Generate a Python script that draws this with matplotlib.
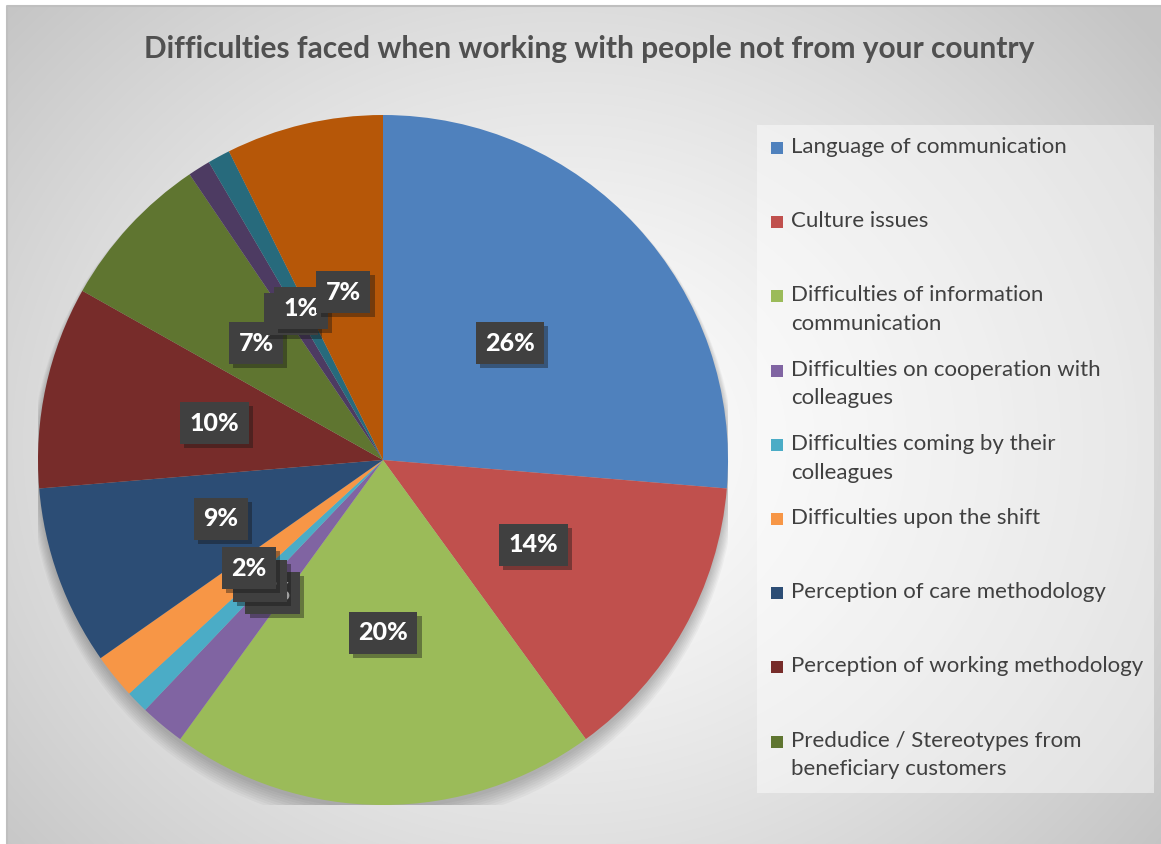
import numpy as np
import matplotlib
matplotlib.use("Agg")
import matplotlib.pyplot as plt
import matplotlib.patheffects as pe
from matplotlib.patches import Rectangle, Ellipse

# survey answers (counts) per difficulty, clockwise from 12 o'clock
names = [
    "Language of communication",
    "Culture issues",
    "Difficulties of information\ncommunication",
    "Difficulties on cooperation with\ncolleagues",
    "Difficulties coming by their\ncolleagues",
    "Difficulties upon the shift",
    "Perception of care methodology",
    "Perception of working methodology",
    "Predudice / Stereotypes from\nbeneficiary customers",
]
counts = [25, 13, 19, 2, 1, 2, 8, 9, 7, 1, 1, 7]
colors = ["#4F81BD", "#C0504D", "#9BBB59", "#8064A2", "#4BACC6", "#F79646",
          "#2C4D75", "#772C2A", "#5F7530", "#4D3B62", "#276A7C", "#B65708"]

title = "Difficulties faced when working with people not from your country"
font = "Lato"
W, H = 1161, 844


def round_percent(vals):
    # whole percentages that still add up to 100 (largest remainder)
    v = np.asarray(vals, dtype=float)
    p = v / v.sum() * 100
    fl = np.floor(p).astype(int)
    rest = 100 - fl.sum()
    order = np.argsort(-(p - fl), kind="stable")
    fl[order[:rest]] += 1
    return fl


fig = plt.figure(figsize=(W / 100, H / 100), dpi=100)

# background: white margin + radial grey gradient chart area
bg = fig.add_axes([0, 0, 1, 1])
bg.set_xlim(0, W)
bg.set_ylim(H, 0)
bg.axis("off")
yy, xx = np.mgrid[0:H, 0:W]
d = np.hypot(xx - 560, (yy - 440) * 1.15) / 760
g = 1.0 - 0.23 * np.clip(d, 0, 1) ** 1.3
img = np.dstack([g, g, g])
bg.imshow(img, extent=(7, W, H, 6), zorder=0, aspect="auto")
bg.plot([7, 7, W], [H, 6, 6], color="#bfbfbf", lw=1.5, zorder=1)

fig.text(589 / W, 1 - 49 / H, title, ha="center", va="center",
         fontsize=21.5, fontweight="bold", color="#505050", family=font)

# pie
cx, cy, R = 383, 460, 345
ax = fig.add_axes([(cx - R) / W, (H - cy - R) / H, 2 * R / W, 2 * R / H])

# soft shadow under the pie
for i in range(8):
    ax.add_patch(Ellipse((0.0, -0.012 - 0.003 * i), 2 + 0.006 * i,
                         2 + 0.008 * i, color="black", alpha=0.03, lw=0,
                         zorder=0))

wedges, _ = ax.pie(counts, colors=colors, startangle=90, counterclock=False,
                   radius=1, wedgeprops=dict(linewidth=0))
ax.set_xlim(-1, 1)
ax.set_ylim(-1, 1)
ax.axis("off")

pcts = round_percent(counts)
for i, (w, p) in enumerate(zip(wedges, pcts)):
    ang = np.deg2rad((w.theta1 + w.theta2) / 2)
    t = ax.text(0.5 * np.cos(ang), 0.5 * np.sin(ang), f"{p}%",
                ha="center", va="center", color="white", fontsize=18,
                fontweight="black", family=font, zorder=10 + i,
                bbox=dict(boxstyle="square,pad=0.38", facecolor="#404040",
                          edgecolor="none", linewidth=0))
    t.get_bbox_patch().set_path_effects(
        [pe.SimplePatchShadow(offset=(3, -3), alpha=0.4), pe.Normal()])

# legend panel
lx0, ly0, lx1, ly1 = 757, 125, 1154, 793
bg.add_patch(Rectangle((lx0, ly0), lx1 - lx0, ly1 - ly0, facecolor="white",
                       alpha=0.45, lw=0, zorder=2))
for i, name in enumerate(names):
    y = 148 + 74.2 * i
    bg.add_patch(Rectangle((771, y - 6), 12, 12, facecolor=colors[i], lw=0,
                           zorder=3))
    bg.text(791, y - 11, name, ha="left", va="top", fontsize=16,
            color="#404040", family=font, linespacing=1.55, zorder=3)

fig.savefig("out.png", dpi=100)
